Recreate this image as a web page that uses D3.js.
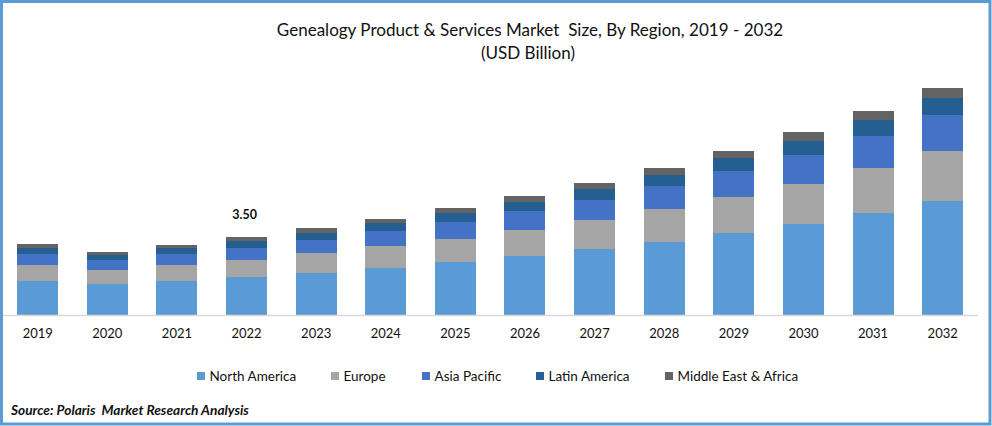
<!DOCTYPE html>
<html>
<head>
<meta charset="utf-8">
<script src="https://cdn.jsdelivr.net/npm/d3@7"></script>
<style>
html,body{margin:0;padding:0;background:#fff;}
svg{display:block;}
text{font-family:Lato,Carlito,"Open Sans",sans-serif;fill:#111;}
</style>
</head>
<body>
<svg id="chart" width="992" height="426"></svg>
<script>
const years = ["2019","2020","2021","2022","2023","2024","2025","2026","2027","2028","2029","2030","2031","2032"];
const northAmerica = [1.53,1.39,1.53,1.70,1.88,2.11,2.38,2.65,2.96,3.27,3.68,4.08,4.58,5.11];
const europe       = [0.72,0.63,0.72,0.76,0.90,0.99,1.03,1.17,1.30,1.48,1.62,1.79,2.02,2.24];
const asiaPacific  = [0.49,0.45,0.49,0.54,0.58,0.67,0.76,0.85,0.90,1.03,1.17,1.30,1.44,1.62];
const latinAmerica = [0.27,0.22,0.27,0.31,0.31,0.36,0.40,0.40,0.49,0.49,0.58,0.63,0.72,0.76];
const middleEast   = [0.18,0.13,0.13,0.18,0.22,0.18,0.22,0.27,0.27,0.31,0.31,0.40,0.40,0.45];
const seriesNames  = ["North America","Europe","Asia Pacific","Latin America","Middle East & Africa"];
const seriesColors = ["#5B9BD5","#A5A5A5","#4472C4","#255E91","#636363"];
const seriesValues = [northAmerica,europe,asiaPacific,latinAmerica,middleEast];
const calloutYear = "2022";
const calloutText = "3.50";
const titleLines = ["Genealogy Product & Services Market  Size, By Region, 2019 - 2032","(USD Billion)"];
const sourceText = "Source: Polaris  Market Research Analysis";

const svg = d3.select("#chart");
const W = 992, H = 426;

svg.append("rect").attr("x",1.5).attr("y",1.5).attr("width",W-3.5).attr("height",H-3.5)
  .attr("fill","#fff").attr("stroke","#5B9BD5").attr("stroke-width",3);

const baseY = 315;
const x = d3.scaleBand().domain(years).range([2.9,977.5]).paddingInner(0.41).paddingOuter(0.205);
const y = d3.scaleLinear().domain([0,5]).range([baseY,baseY-111.45]);

const rows = years.map((yr,i)=>{
  const r={year:yr};
  seriesNames.forEach((n,k)=>r[n]=seriesValues[k][i]);
  return r;
});
const stacked = d3.stack().keys(seriesNames)(rows);

svg.append("g").selectAll("g").data(stacked).join("g")
  .attr("fill",(d,i)=>seriesColors[i])
  .selectAll("rect").data(d=>d).join("rect")
  .attr("x",d=>Math.round(x(d.data.year)))
  .attr("width",41)
  .attr("y",d=>Math.round(y(d[1])))
  .attr("height",d=>Math.round(y(d[0]))-Math.round(y(d[1])));

const axis = svg.append("g").attr("transform",`translate(0,${baseY})`)
  .call(d3.axisBottom(x).tickSize(0).tickPadding(14));
axis.select(".domain").attr("stroke","#D9D9D9").attr("stroke-width",1.5)
  .attr("d","M3,0.5H978");
axis.selectAll("text").attr("font-size",13).attr("fill","#111").style("font-family","Lato,Carlito,sans-serif");

const title = svg.append("g").attr("text-anchor","middle");
title.selectAll("text").data(titleLines).join("text")
  .attr("x",(d,i)=>i===0?530:528).attr("y",(d,i)=>36+i*23)
  .attr("font-size",17.05).style("white-space","pre")
  .text(d=>d);

const top2022 = d3.sum(seriesValues,s=>s[years.indexOf(calloutYear)]);
svg.append("text").attr("x",x(calloutYear)+x.bandwidth()/2-2).attr("y",y(top2022)-18)
  .attr("text-anchor","middle").attr("font-size",12.5).attr("font-weight",700).text(calloutText);

const legendSwatchX = [197,331,422,536,665];
const legend = svg.append("g").selectAll("g").data(seriesNames).join("g")
  .attr("transform",(d,i)=>`translate(${legendSwatchX[i]},372)`);
legend.append("rect").attr("width",8).attr("height",8).attr("fill",(d,i)=>seriesColors[i]);
legend.append("text").attr("x",12.5).attr("y",9).attr("font-size",13.5).text(d=>d);

svg.append("text").attr("x",11).attr("y",415).attr("font-size",13.7)
  .attr("font-weight",700).attr("font-style","italic").style("white-space","pre").text(sourceText);
</script>
</body>
</html>
